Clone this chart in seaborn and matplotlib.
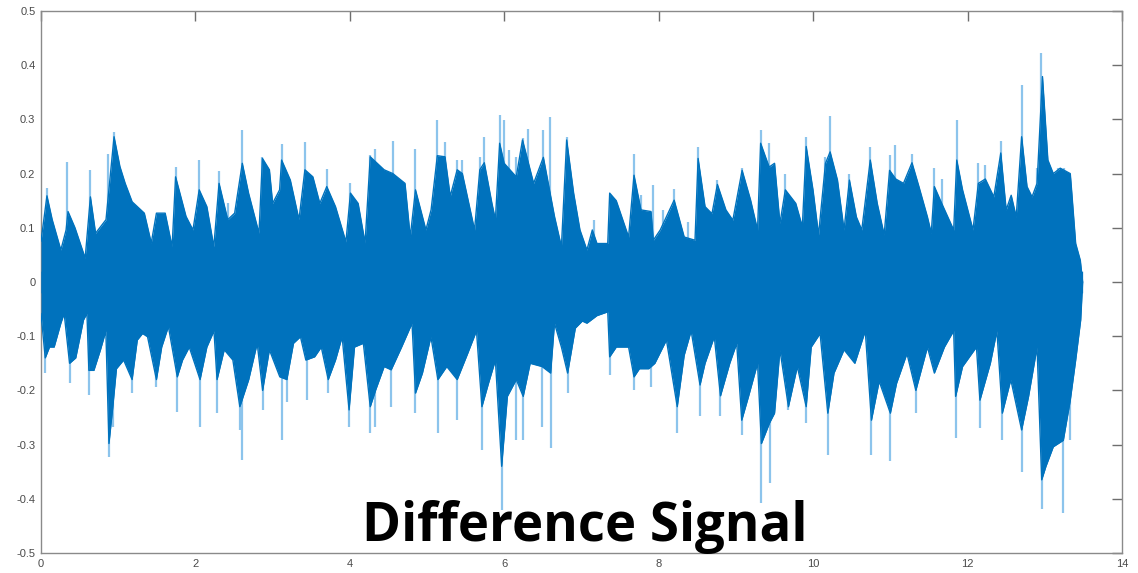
import numpy as np
import pandas as pd
import matplotlib.pyplot as plt
import seaborn as sns

# Upper envelope of the dark waveform body (time in s, amplitude)
up_t = [0.0, 0.077, 0.145, 0.257, 0.325, 0.35, 0.44, 0.572, 0.64, 0.707, 0.842, 0.946,
        1.022, 1.09, 1.18, 1.338, 1.428, 1.495, 1.608, 1.698, 1.743, 1.878, 1.968, 2.049,
        2.148, 2.238, 2.306, 2.418, 2.508, 2.607, 2.688, 2.823, 2.868, 2.958, 3.0, 3.09,
        3.116, 3.229, 3.341, 3.418, 3.521, 3.611, 3.701, 3.814, 3.949, 4.008, 4.107, 4.197,
        4.264, 4.444, 4.557, 4.714, 4.782, 4.85, 4.985, 5.052, 5.133, 5.232, 5.30, 5.39,
        5.457, 5.615, 5.683, 5.741, 5.84, 5.885, 5.94, 5.998, 6.155, 6.236, 6.38, 6.506,
        6.65, 6.74, 6.808, 6.898, 6.98, 7.07, 7.14, 7.2, 7.34, 7.365, 7.45, 7.61, 7.68,
        7.77, 7.90, 7.93, 8.02, 8.2, 8.33, 8.47, 8.51, 8.6, 8.69, 8.76, 8.87, 8.96, 9.08,
        9.19, 9.28, 9.32, 9.43, 9.5, 9.57, 9.64, 9.775, 9.86, 9.91, 9.998, 10.07, 10.16,
        10.22, 10.315, 10.40, 10.47, 10.56, 10.63, 10.74, 10.83, 10.92, 10.99, 11.07, 11.17,
        11.28, 11.37, 11.48, 11.53, 11.57, 11.665, 11.82, 11.86, 11.935, 12.07, 12.14, 12.23,
        12.34, 12.43, 12.50, 12.565, 12.63, 12.70, 12.77, 12.835, 12.90, 12.97, 13.04, 13.11,
        13.2, 13.33, 13.35, 13.40, 13.46, 13.49]
up_v = [0.075, 0.159, 0.115, 0.059, 0.096, 0.13, 0.10, 0.044, 0.157, 0.09, 0.115, 0.268,
        0.213, 0.182, 0.148, 0.127, 0.072, 0.127, 0.127, 0.065, 0.194, 0.121, 0.096, 0.17,
        0.139, 0.065, 0.182, 0.115, 0.127, 0.219, 0.164, 0.090, 0.228, 0.207, 0.145, 0.17,
        0.225, 0.188, 0.115, 0.207, 0.194, 0.145, 0.176, 0.139, 0.074, 0.164, 0.145, 0.072,
        0.231, 0.207, 0.2, 0.182, 0.083, 0.17, 0.096, 0.133, 0.233, 0.231, 0.158, 0.207,
        0.2, 0.096, 0.207, 0.22, 0.145, 0.115, 0.256, 0.219, 0.194, 0.262, 0.182, 0.23,
        0.121, 0.065, 0.262, 0.164, 0.096, 0.059, 0.096, 0.071, 0.071, 0.164, 0.15, 0.083, 0.197,
        0.133, 0.13, 0.077, 0.096, 0.151, 0.083, 0.077, 0.228, 0.139, 0.126, 0.18, 0.133, 0.114, 0.206,
        0.151, 0.096, 0.256, 0.212, 0.219, 0.108, 0.17, 0.145, 0.102, 0.25, 0.17, 0.087, 0.219,
        0.24, 0.188, 0.096, 0.188, 0.12, 0.096, 0.225, 0.145, 0.087, 0.206, 0.19, 0.182,
        0.22, 0.176, 0.12, 0.09, 0.176, 0.145, 0.096, 0.225, 0.17, 0.096, 0.182, 0.19,
        0.157, 0.238, 0.133, 0.16, 0.12, 0.268, 0.176, 0.157, 0.182, 0.379, 0.225, 0.2,
        0.21, 0.2, 0.164, 0.071, 0.04, 0.0]

# Lower envelope of the dark waveform body
lo_t = [0.0, 0.055, 0.11, 0.17, 0.257, 0.30, 0.37, 0.45, 0.55, 0.595, 0.62, 0.685, 0.77,
        0.84, 0.88, 0.93, 0.977, 1.07, 1.18, 1.247, 1.315, 1.38, 1.495, 1.563, 1.65, 1.765,
        1.833, 1.92, 2.06, 2.148, 2.24, 2.28, 2.373, 2.485, 2.575, 2.69, 2.8, 2.87, 2.958,
        3.093, 3.184, 3.27, 3.36, 3.43, 3.544, 3.63, 3.72, 3.814, 3.9, 3.99, 4.06, 4.175,
        4.264, 4.332, 4.444, 4.535, 4.67, 4.805, 4.85, 4.94, 5.05, 5.14, 5.255, 5.39, 5.525,
        5.64, 5.71, 5.795, 5.885, 5.966, 6.04, 6.155, 6.245, 6.335, 6.49, 6.6, 6.65, 6.74,
        6.82, 6.92, 7.01, 7.07, 7.20, 7.34, 7.365, 7.45, 7.61, 7.68, 7.75, 7.87, 7.95, 8.1,
        8.24, 8.33, 8.42, 8.535, 8.60, 8.72, 8.80, 8.92, 9.01, 9.075, 9.165, 9.28, 9.33,
        9.435, 9.50, 9.57, 9.68, 9.795, 9.91, 9.975, 10.09, 10.19, 10.27, 10.40, 10.54,
        10.675, 10.755, 10.855, 11.0, 11.08, 11.215, 11.33, 11.48, 11.57, 11.70, 11.82,
        11.845, 11.935, 12.115, 12.16, 12.295, 12.38, 12.45, 12.56, 12.70, 12.79, 12.90,
        12.96, 13.015, 13.11, 13.24, 13.33, 13.40, 13.465, 13.49]
lo_v = [-0.058, -0.14, -0.12, -0.12, -0.076, -0.058, -0.15, -0.14, -0.07, -0.058, -0.163,
        -0.163, -0.125, -0.09, -0.298, -0.23, -0.16, -0.144, -0.18, -0.107, -0.095, -0.101,
        -0.18, -0.12, -0.082, -0.175, -0.144, -0.12, -0.18, -0.12, -0.09, -0.18, -0.125,
        -0.144, -0.23, -0.18, -0.113, -0.2, -0.125, -0.175, -0.18, -0.113, -0.101, -0.144,
        -0.138, -0.12, -0.18, -0.144, -0.101, -0.236, -0.12, -0.113, -0.23, -0.2, -0.156,
        -0.162, -0.12, -0.076, -0.205, -0.168, -0.101, -0.18, -0.156, -0.18, -0.132, -0.09,
        -0.23, -0.187, -0.144, -0.34, -0.211, -0.18, -0.211, -0.15, -0.156, -0.168, -0.076,
        -0.12, -0.168, -0.085, -0.072, -0.076, -0.062, -0.055, -0.138, -0.12, -0.12, -0.175,
        -0.16, -0.16, -0.15, -0.107, -0.23, -0.135, -0.09, -0.19, -0.15, -0.101, -0.21,
        -0.15, -0.113, -0.255, -0.21, -0.15, -0.298, -0.26, -0.242, -0.125, -0.23, -0.156,
        -0.23, -0.12, -0.095, -0.242, -0.168, -0.125, -0.15, -0.09, -0.255, -0.183, -0.242,
        -0.187, -0.132, -0.2, -0.12, -0.168, -0.12, -0.09, -0.211, -0.156, -0.12, -0.218,
        -0.15, -0.09, -0.242, -0.18, -0.273, -0.211, -0.12, -0.365, -0.34, -0.304, -0.292,
        -0.218, -0.144, -0.07, 0.0]

# Thin light-blue spike tips above / below the body
up_spike_t = [0.077, 0.338, 0.64, 0.865, 0.946, 1.743, 2.049, 2.306, 2.418, 2.607, 2.868,
              3.116, 3.418, 3.701, 4.008, 4.264, 4.332, 4.557, 4.85, 5.133, 5.232, 5.39,
              5.457, 5.683, 5.741, 5.94, 5.998, 6.065, 6.155, 6.236, 6.313, 6.506, 6.588,
              6.808, 7.16, 7.68, 7.77, 7.93, 8.06, 8.2, 8.38, 8.51, 8.76, 9.08, 9.32, 9.43,
              9.64, 9.91, 10.16, 10.22, 10.47, 10.74, 10.99, 11.06, 11.28, 11.57, 11.665,
              11.86, 12.14, 12.23, 12.43, 12.565, 12.70, 12.905, 12.95, 13.17, 13.25]
up_spike_v = [0.173, 0.222, 0.207, 0.237, 0.277, 0.213, 0.225, 0.204, 0.145, 0.280, 0.231,
              0.255, 0.259, 0.208, 0.183, 0.234, 0.246, 0.261, 0.245, 0.299, 0.259, 0.225,
              0.225, 0.231, 0.268, 0.308, 0.299, 0.243, 0.231, 0.265, 0.283, 0.280, 0.304,
              0.268, 0.114, 0.237, 0.16, 0.179, 0.133, 0.171, 0.11, 0.250, 0.188, 0.21, 0.28,
              0.256, 0.2, 0.268, 0.231, 0.306, 0.2, 0.25, 0.234, 0.252, 0.237, 0.21, 0.19,
              0.299, 0.219, 0.216, 0.26, 0.157, 0.363, 0.21, 0.422, 0.21, 0.21]
lo_spike_t = [0.055, 0.37, 0.62, 0.88, 0.93, 1.18, 1.495, 1.765, 2.06, 2.28, 2.575, 2.607,
              2.87, 3.12, 3.184, 3.45, 3.72, 3.99, 4.264, 4.332, 4.535, 4.85, 5.14, 5.39,
              5.71, 5.966, 6.155, 6.245, 6.49, 6.6, 6.82, 7.365, 7.68, 7.905, 8.24, 8.535,
              8.80, 9.075, 9.33, 9.435, 9.68, 9.91, 10.19, 10.755, 11.0, 11.33, 11.845,
              12.16, 12.45, 12.70, 12.96, 13.24, 13.33]
lo_spike_v = [-0.168, -0.187, -0.208, -0.322, -0.267, -0.205, -0.193, -0.239, -0.267,
              -0.242, -0.273, -0.328, -0.236, -0.291, -0.222, -0.217, -0.205, -0.267,
              -0.279, -0.267, -0.23, -0.242, -0.279, -0.255, -0.31, -0.421, -0.291, -0.291,
              -0.267, -0.307, -0.205, -0.171, -0.199, -0.193, -0.279, -0.248, -0.248,
              -0.282, -0.408, -0.371, -0.236, -0.261, -0.319, -0.319, -0.331, -0.242,
              -0.288, -0.27, -0.291, -0.35, -0.418, -0.427, -0.291]

x_ticks = [0, 2, 4, 6, 8, 10, 12, 14]
y_ticks = [-0.5, -0.4, -0.3, -0.2, -0.1, 0, 0.1, 0.2, 0.3, 0.4, 0.5]
y_labels = ['-0.5', '-0.4', '-0.3', '-0.2', '-0.1', '0', '0.1', '0.2', '0.3', '0.4', '0.5']

dark = '#0072BD'
light = '#8cc4ec'

sns.set_style('white')
plt.rcParams['font.family'] = ['Liberation Sans', 'DejaVu Sans']

fig = plt.figure(figsize=(11.38, 5.73), dpi=100)
ax = fig.add_axes([41 / 1138, 1 - 553 / 573, 1081 / 1138, 542 / 573])

# light spikes behind the body
ax.vlines(up_spike_t, 0, up_spike_v, color=light, lw=1.6, zorder=2)
ax.vlines(lo_spike_t, lo_spike_v, 0, color=light, lw=1.6, zorder=2)

# dark body (the two fills overlap a little so no seam shows at 0)
ax.fill_between(lo_t, lo_v, 0.02, color=dark, lw=0, zorder=3)
ax.fill_between(up_t, -0.02, up_v, color=dark, lw=0, zorder=3)
env = pd.DataFrame({'t': up_t + lo_t, 'v': up_v + lo_v,
                    'side': ['up'] * len(up_t) + ['lo'] * len(lo_t)})
sns.lineplot(data=env, x='t', y='v', units='side', estimator=None, sort=False,
             color=dark, lw=1.0, ax=ax, zorder=4)

ax.set_xlim(0, 14)
ax.set_ylim(-0.5, 0.5)
ax.set_xticks(x_ticks)
ax.set_xticklabels([str(x) for x in x_ticks])
ax.set_yticks(y_ticks)
ax.set_yticklabels(y_labels)
ax.set_xlabel('')
ax.set_ylabel('')
ax.tick_params(direction='in', length=7, width=1, color='#6e6e6e', labelcolor='#4a4a4a',
               labelsize=8, top=True, right=True, pad=4)
for s in ax.spines.values():
    s.set_color('#8a8a8a')
    s.set_linewidth(1)
    s.set_visible(True)

fig.text(585 / 1138, 1 - 527 / 573, 'Difference Signal', fontsize=38, fontweight='bold',
         family=['Open Sans', 'DejaVu Sans'], color='black', ha='center', va='center', zorder=10)

fig.savefig('out.png', dpi=100, facecolor='white')
